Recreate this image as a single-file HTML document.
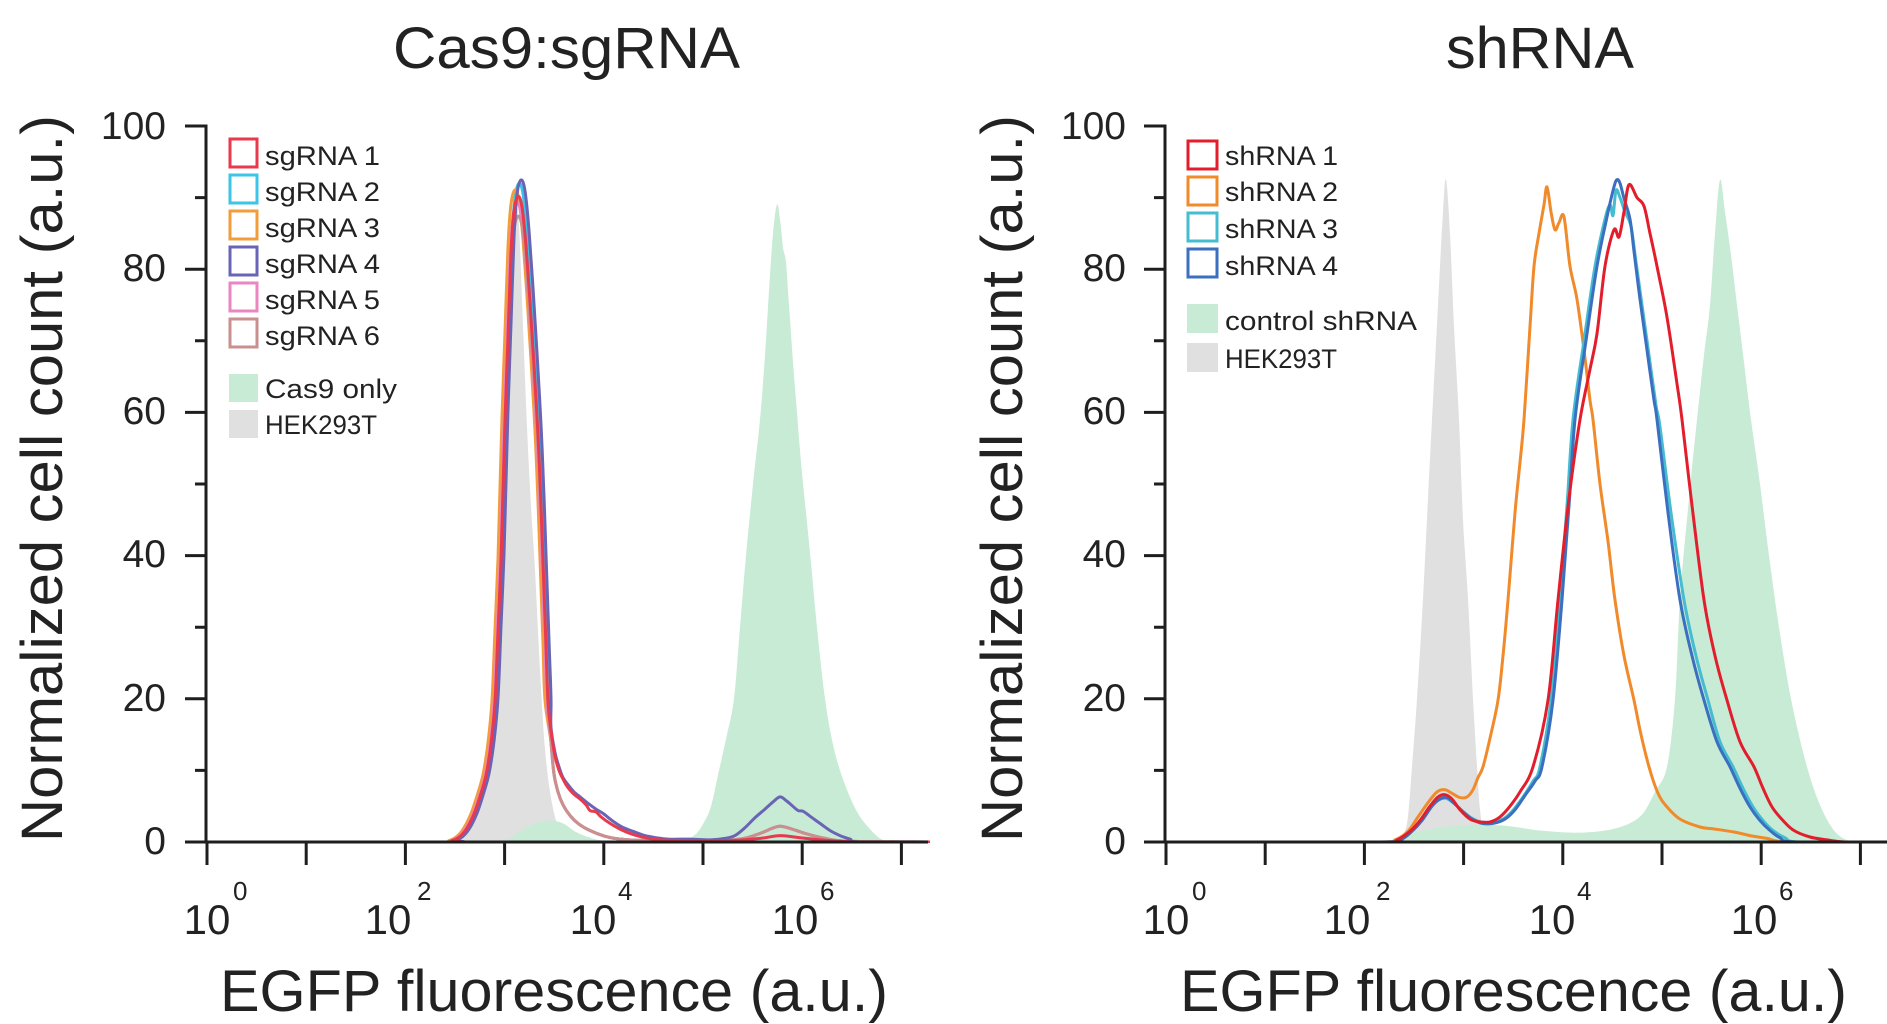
<!DOCTYPE html>
<html>
<head>
<meta charset="utf-8">
<style>
html,body{margin:0;padding:0;background:#fff;}
svg{display:block;}
text{font-family:"Liberation Sans",Arial,sans-serif;fill:#222;}
</style>
</head>
<body>
<svg id="s" width="1887" height="1024" viewBox="0 0 1887 1024" xmlns="http://www.w3.org/2000/svg">
<defs>
<clipPath id="cp"><rect x="0" y="0" width="1887" height="843"/></clipPath>
</defs>
<rect x="0" y="0" width="1887" height="1024" fill="#fff"/>
<g id="curves" clip-path="url(#cp)"></g>

<!-- Titles -->
<text x="393" y="68" font-size="58" textLength="347" lengthAdjust="spacingAndGlyphs">Cas9:sgRNA</text>
<text x="1446" y="68" font-size="58" textLength="188" lengthAdjust="spacingAndGlyphs">shRNA</text>

<!-- Axes left -->
<g stroke="#1e1e1e" stroke-width="3" fill="none">
<path d="M185,842 H928 M206,124.5 V843.5"/>
<path d="M185,842H206 M185,698.8H206 M185,555.6H206 M185,412.4H206 M185,269.2H206 M185,126H206 M195,770.4H206 M195,627.2H206 M195,484H206 M195,340.8H206 M195,197.6H206"/>
<path d="M207,842V865 M306.2,842V865 M405.4,842V865 M504.6,842V865 M603.8,842V865 M703,842V865 M802.2,842V865 M901.4,842V865"/>
<!-- Axes right -->
<path d="M1144,842 H1887 M1165,124.5 V843.5"/>
<path d="M1144,842H1165 M1144,698.8H1165 M1144,555.6H1165 M1144,412.4H1165 M1144,269.2H1165 M1144,126H1165 M1154,770.4H1165 M1154,627.2H1165 M1154,484H1165 M1154,340.8H1165 M1154,197.6H1165"/>
<path d="M1166,842V865 M1265.2,842V865 M1364.4,842V865 M1463.6,842V865 M1562.8,842V865 M1662,842V865 M1761.2,842V865 M1860.4,842V865"/>
</g>

<!-- Y tick labels -->
<g font-size="39" text-anchor="end">
<text x="166" y="139">100</text>
<text x="166" y="281">80</text>
<text x="166" y="424">60</text>
<text x="166" y="567">40</text>
<text x="166" y="711">20</text>
<text x="166" y="854">0</text>
<text x="1126" y="139">100</text>
<text x="1126" y="281">80</text>
<text x="1126" y="424">60</text>
<text x="1126" y="567">40</text>
<text x="1126" y="711">20</text>
<text x="1126" y="854">0</text>
</g>

<!-- X tick labels -->
<g font-size="42" text-anchor="middle">
<text x="207" y="934">10</text>
<text x="388" y="934">10</text>
<text x="593" y="934">10</text>
<text x="795" y="934">10</text>
<text x="1166" y="934">10</text>
<text x="1347" y="934">10</text>
<text x="1552" y="934">10</text>
<text x="1754" y="934">10</text>
</g>
<g font-size="26">
<text x="233" y="900">0</text>
<text x="417" y="900">2</text>
<text x="618" y="900">4</text>
<text x="820" y="900">6</text>
<text x="1192" y="900">0</text>
<text x="1376" y="900">2</text>
<text x="1577" y="900">4</text>
<text x="1779" y="900">6</text>
</g>

<!-- Axis titles -->
<text x="220" y="1011" font-size="58" textLength="668" lengthAdjust="spacingAndGlyphs">EGFP fluorescence (a.u.)</text>
<text x="1180" y="1011" font-size="58" textLength="667" lengthAdjust="spacingAndGlyphs">EGFP fluorescence (a.u.)</text>
<text transform="translate(62,842) rotate(-90)" x="0" y="0" font-size="58" textLength="727" lengthAdjust="spacingAndGlyphs">Normalized cell count (a.u.)</text>
<text transform="translate(1022,842) rotate(-90)" x="0" y="0" font-size="58" textLength="727" lengthAdjust="spacingAndGlyphs">Normalized cell count (a.u.)</text>

<!-- Legend left -->
<g fill="none" stroke-width="3">
<rect x="230" y="139" width="27" height="28" stroke="#e8394d"/>
<rect x="230" y="175" width="27" height="28" stroke="#3cc5e6"/>
<rect x="230" y="211" width="27" height="28" stroke="#f39c3c"/>
<rect x="230" y="247" width="27" height="28" stroke="#6a64b5"/>
<rect x="230" y="283" width="27" height="28" stroke="#ea86c2"/>
<rect x="230" y="319" width="27" height="28" stroke="#c9908f"/>
</g>
<rect x="229" y="374" width="29" height="28" fill="#c8ebd5"/>
<rect x="229" y="410" width="29" height="28" fill="#e0e0e0"/>
<g font-size="27">
<text x="265" y="165" textLength="115" lengthAdjust="spacingAndGlyphs">sgRNA 1</text>
<text x="265" y="201" textLength="115" lengthAdjust="spacingAndGlyphs">sgRNA 2</text>
<text x="265" y="237" textLength="115" lengthAdjust="spacingAndGlyphs">sgRNA 3</text>
<text x="265" y="273" textLength="115" lengthAdjust="spacingAndGlyphs">sgRNA 4</text>
<text x="265" y="309" textLength="115" lengthAdjust="spacingAndGlyphs">sgRNA 5</text>
<text x="265" y="345" textLength="115" lengthAdjust="spacingAndGlyphs">sgRNA 6</text>
<text x="265" y="398" textLength="132" lengthAdjust="spacingAndGlyphs">Cas9 only</text>
<text x="265" y="434" textLength="112" lengthAdjust="spacingAndGlyphs">HEK293T</text>
</g>

<!-- Legend right -->
<g fill="none" stroke-width="3">
<rect x="1188" y="141" width="29" height="28" stroke="#e31e2c"/>
<rect x="1188" y="177" width="29" height="28" stroke="#f08a2b"/>
<rect x="1188" y="213" width="29" height="28" stroke="#45bcd0"/>
<rect x="1188" y="249" width="29" height="28" stroke="#3b6fc0"/>
</g>
<rect x="1187" y="304" width="31" height="29" fill="#c8ebd5"/>
<rect x="1187" y="343" width="31" height="29" fill="#e0e0e0"/>
<g font-size="27">
<text x="1225" y="165" textLength="113" lengthAdjust="spacingAndGlyphs">shRNA 1</text>
<text x="1225" y="201" textLength="113" lengthAdjust="spacingAndGlyphs">shRNA 2</text>
<text x="1225" y="238" textLength="113" lengthAdjust="spacingAndGlyphs">shRNA 3</text>
<text x="1225" y="275" textLength="113" lengthAdjust="spacingAndGlyphs">shRNA 4</text>
<text x="1225" y="330" textLength="192" lengthAdjust="spacingAndGlyphs">control shRNA</text>
<text x="1225" y="368" textLength="112" lengthAdjust="spacingAndGlyphs">HEK293T</text>
</g>
</svg>

<script>
(function(){
var NS="http://www.w3.org/2000/svg";
var g=document.getElementById("curves");
function Y(v){return 842-7.16*v;}
function pts(a){return a.map(function(p){return [p[0],Y(p[1])];});}
function cr(P){
  var d="M"+P[0][0]+","+P[0][1].toFixed(1);
  for(var i=0;i<P.length-1;i++){
    var p0=P[i-1]||P[i],p1=P[i],p2=P[i+1],p3=P[i+2]||P[i+1];
    var c1x=p1[0]+(p2[0]-p0[0])/6,c1y=p1[1]+(p2[1]-p0[1])/6;
    var c2x=p2[0]-(p3[0]-p1[0])/6,c2y=p2[1]-(p3[1]-p1[1])/6;
    d+="C"+c1x.toFixed(1)+","+c1y.toFixed(1)+" "+c2x.toFixed(1)+","+c2y.toFixed(1)+" "+p2[0]+","+p2[1].toFixed(1);
  }
  return d;
}
function fill(a,color){
  var P=pts(a);
  var d=cr(P)+"L"+P[P.length-1][0]+",842L"+P[0][0]+",842Z";
  var e=document.createElementNS(NS,"path");
  e.setAttribute("d",d);e.setAttribute("fill",color);e.setAttribute("stroke","none");
  g.appendChild(e);
}
function line(a,color,w){
  var e=document.createElementNS(NS,"path");
  e.setAttribute("d",cr(pts(a)));e.setAttribute("fill","none");
  e.setAttribute("stroke",color);e.setAttribute("stroke-width",w||3);
  e.setAttribute("stroke-linejoin","round");
  g.appendChild(e);
}

/* ---------------- LEFT PANEL ---------------- */
var grayL=[[430,0],[445,0.2],[455,0.6],[462,1.5],[470,3],[480,7],[487,12],[493,20],[500,32],[505,45],[509,60],[513,78],[516,88],[519,86],[523,72],[527,58],[531,47],[535,38],[540,24],[545,13],[550,7],[556,3],[562,1],[570,0.3],[585,0]];
var greenL=[[670,0],[685,0.3],[695,1],[703,2.5],[711,5],[719,10],[727,15],[734,20],[740,30],[746,40],[753,50],[760,59],[765,68],[769,77],[773,85],[777,89],[780,87],[783,83],[786,81],[789,75],[793,67],[797,60],[801,53],[806,46],[811,39],[817,30],[825,20],[834,13],[845,8],[858,4],[870,1.8],[880,0.5],[890,0]];
var greenL2=[[495,0],[510,0.5],[522,1.6],[535,2.6],[550,3],[563,2.6],[576,1.4],[592,0.5],[610,0]];
fill(grayL,"#e0e0e0");
fill(greenL,"#c8ebd5");
fill(greenL2,"#c8ebd5");

var LL=[[440,0],[452,0.2],[460,0.8],[467,2],[474,4],[480,6.5],[486,9.5],[491,14],[495,20],[498,30],[501,40],[503,50],[505,60],[508,72],[511,84],[514,90],[518,92],[522,90.5],[526,85],[530,77],[534,68],[538,58],[541,48],[543,40],[546,28],[548,20]];
var redT=[[551,15.5],[555,12],[559,10],[563,8.8],[567,7.8],[573,6.8],[580,6],[586,5.2],[590,4.4],[596,4.2],[601,3.5],[610,2.6],[620,1.8],[632,1.1],[645,0.6],[660,0.3],[690,0.2],[730,0.2],[760,0.5],[780,0.9],[800,0.6],[830,0.2],[860,0],[930,0]];
var purpT=[[551,16],[555,12.5],[559,10.5],[563,9],[568,8],[574,7],[581,6.2],[588,5.4],[596,4.6],[603,4],[612,3],[622,2.1],[633,1.5],[645,0.9],[656,0.6],[668,0.4],[690,0.4],[710,0.3],[725,0.5],[735,0.9],[745,2],[755,3.4],[765,4.6],[773,5.6],[780,6.3],[786,5.8],[792,5.1],[798,4.4],[803,4.3],[810,3.6],[820,2.6],[830,1.6],[840,0.9],[850,0.4],[860,0],[930,0]];
var lowT=[[551,14],[554,9.5],[558,7],[563,5.2],[570,3.7],[578,2.6],[590,1.6],[605,0.8],[620,0.4],[650,0.2],[700,0.2],[740,0.4],[760,1.2],[772,1.9],[780,2.2],[790,1.9],[805,1.2],[825,0.5],[850,0.1],[930,0]];
function mkL(dx,s,tail){
  var a=[[210,0]];
  LL.forEach(function(p){a.push([p[0]+dx,p[1]*s]);});
  tail.forEach(function(p){a.push([p[0],p[1]]);});
  return a;
}
line(mkL(1,1.0,lowT),"#3cc5e6");
line(mkL(-3,0.99,lowT),"#f39c3c");
line(mkL(-1,0.97,lowT),"#ea86c2");
line(mkL(0,0.95,lowT),"#c9908f");
line(mkL(3,1.005,purpT),"#6a64b5");
line(mkL(0,0.98,redT),"#e8394d");

/* ---------------- RIGHT PANEL ---------------- */
var grayR=[[1388,0],[1400,0.5],[1406,2],[1409,5],[1412,10.5],[1417,20],[1423,34],[1428,48],[1432,59],[1438,75],[1443,88],[1446,92.5],[1450,85],[1454,72],[1459,59],[1463,45],[1468,34],[1473,20],[1477,10.5],[1480,4.5],[1484,1.5],[1492,0]];
var greenR=[[1385,0],[1400,0.6],[1420,1.5],[1450,2.2],[1480,2.4],[1510,2.2],[1540,1.6],[1575,1.3],[1605,1.6],[1628,2.5],[1643,4],[1655,7],[1667,10.5],[1675,20],[1680,34],[1689,48],[1697,59],[1704,68],[1710,75],[1715,85],[1720,92.5],[1725,88],[1731,82],[1737,75],[1744,67],[1751,59],[1760,50],[1769,40],[1779,30],[1791,20],[1806,11],[1819,5.5],[1831,2.2],[1842,0.6],[1855,0]];
fill(grayR,"#e0e0e0");
fill(greenR,"#c8ebd5");

var orange=[[1170,0],[1380,0],[1395,0.3],[1408,1.5],[1418,3.5],[1428,5.5],[1437,7],[1445,7.3],[1452,6.8],[1460,6.2],[1467,6.3],[1473,7.3],[1478,9],[1483,10.5],[1490,14.5],[1498,19.8],[1503,26],[1508,33.8],[1515,46],[1520,53],[1524,59],[1530,72],[1534,80.4],[1539,85],[1544,89],[1547,91.5],[1551,88],[1555,85.5],[1559,86.5],[1564,87.3],[1570,80.4],[1577,75.8],[1584,68.7],[1590,61.7],[1593,59],[1600,50],[1608,42],[1615,33.8],[1624,26],[1634,19.8],[1641,15],[1649,10.5],[1658,6.8],[1667,4.9],[1680,3.2],[1700,2.1],[1715,1.8],[1734,1.4],[1750,0.9],[1767,0.5],[1790,0],[1887,0]];
var cyan=[[1170,0],[1382,0],[1398,0.3],[1411,1.5],[1421,3],[1431,5],[1439,5.9],[1446,6.1],[1454,5.4],[1462,4.4],[1471,3.4],[1481,2.8],[1492,2.8],[1504,3.3],[1514,4.6],[1524,6.5],[1533,8.5],[1540,10.5],[1551,19.8],[1560,33.8],[1567,47],[1573,59],[1584,70],[1595,80.4],[1605,87],[1610,89],[1613,87.5],[1616,91],[1620,90],[1625,88],[1631,86],[1636,81],[1642,75],[1649,68],[1656,61],[1660,58],[1671,46],[1684,33.8],[1696,26],[1708,19.8],[1720,14],[1733,10.5],[1743,7.5],[1753,4.9],[1763,3],[1773,1.6],[1785,0.6],[1800,0],[1887,0]];
var blue=[[1170,0],[1380,0],[1400,0.3],[1412,1.5],[1422,3],[1432,5],[1440,6],[1447,6.2],[1455,5.3],[1463,4.2],[1472,3.2],[1482,2.6],[1493,2.6],[1505,3.2],[1515,4.5],[1525,6.5],[1535,8.5],[1542,10.5],[1553,19.8],[1562,33.8],[1569,47],[1575,59],[1586,70],[1597,80.4],[1607,87.3],[1614,91.5],[1617,92.5],[1620,92],[1624,89.9],[1630,87],[1634,82.5],[1640,75.8],[1647,68.7],[1654,61.7],[1657,59],[1668,46],[1680,33.8],[1692,26],[1704,19.8],[1717,14],[1730,10.5],[1740,7.5],[1750,4.9],[1760,3],[1770,1.6],[1780,0.6],[1795,0],[1887,0]];
var red=[[1170,0],[1380,0],[1397,0.3],[1410,1.5],[1420,3],[1430,5],[1438,6.3],[1445,6.6],[1452,6],[1460,4.5],[1470,3.2],[1480,2.8],[1490,2.8],[1500,3.5],[1510,5],[1520,7],[1533,10.5],[1548,19.8],[1558,33.8],[1569,48],[1580,59],[1590,66],[1597,71],[1605,80.4],[1614,85.5],[1619,84.5],[1624,88],[1629,91.8],[1637,90],[1644,88.8],[1650,85],[1657,80.4],[1667,73.3],[1677,64],[1682,59],[1692,47],[1704,33.8],[1715,26],[1727,19.8],[1740,14],[1754,10.5],[1763,7.5],[1772,4.9],[1783,3],[1794,1.6],[1810,0.7],[1827,0.3],[1845,0],[1887,0]];
line(orange,"#f08a2b");
line(cyan,"#45bcd0");
line(blue,"#3b6fc0");
line(red,"#e31e2c");
})();
</script>
</body>
</html>
